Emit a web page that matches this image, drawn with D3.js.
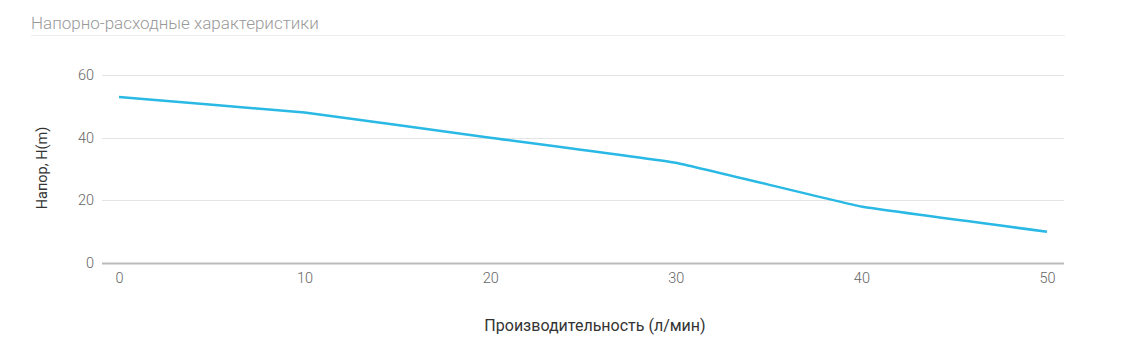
<!DOCTYPE html>
<html><head><meta charset="utf-8">
<script src="https://cdn.jsdelivr.net/npm/d3@7"></script>
<style>body{margin:0;background:#fff;}svg{display:block;font-family:Roboto,sans-serif;}</style>
</head><body><svg id="c" width="1126" height="360"></svg>
<script>
const flow = [0, 10, 20, 30, 40, 50];
const head = [53, 48, 40, 32, 18, 10];
const yTicks = [0, 20, 40, 60];
const xTicks = [0, 10, 20, 30, 40, 50];
const title = "Напорно-расходные характеристики";
const xTitle = "Производительность (л/мин)";
const yTitle = "Напор, H(m)";

const svg = d3.select("#c");
const x = d3.scaleLinear().domain([0, 50]).range([119, 1047]);
const y = d3.scaleLinear().domain([0, 60]).range([263, 75]);
const gridL = 102, gridR = 1064;

svg.append("text").attr("x", 31).attr("y", 29).attr("font-size", 17).attr("font-weight", 300)
  .attr("fill", "#999").text(title);
svg.append("line").attr("x1", 31).attr("x2", 1065).attr("y1", 35.5).attr("y2", 35.5)
  .attr("stroke", "#eeeeee").attr("stroke-width", 1);

const yAxis = d3.axisLeft(y).tickValues(yTicks).tickSize(0).tickPadding(0);
const gy = svg.append("g").attr("transform", `translate(${gridL - 8},0)`).call(yAxis);
gy.select(".domain").remove();
gy.selectAll("text").attr("font-size", 14.5).attr("font-family", "Roboto, sans-serif").attr("font-weight", 300).attr("fill", "#666");

svg.append("g").selectAll("line").data(yTicks).join("line")
  .attr("x1", gridL).attr("x2", gridR)
  .attr("y1", d => Math.round(y(d)) + 0.5).attr("y2", d => Math.round(y(d)) + 0.5)
  .attr("stroke", d => d === 0 ? "#bbbbbb" : "#e4e4e4").attr("stroke-width", d => d === 0 ? 2 : 1);

const xAxis = d3.axisBottom(x).tickValues(xTicks).tickSize(0).tickPadding(0);
const gx = svg.append("g").attr("transform", `translate(0,${273})`).call(xAxis);
gx.select(".domain").remove();
gx.selectAll("text").attr("font-size", 14.5).attr("font-family", "Roboto, sans-serif").attr("font-weight", 300).attr("fill", "#666");

svg.append("text").attr("x", 595).attr("y", 331).attr("text-anchor", "middle")
  .attr("font-size", 16).attr("fill", "#333").text(xTitle);
svg.append("text").attr("transform", "translate(47,168) rotate(-90)").attr("text-anchor", "middle")
  .attr("font-size", 14.5).attr("fill", "#333").text(yTitle);

const pts = flow.map((f, i) => [f, head[i]]);
const line = d3.line().x(d => x(d[0])).y(d => y(d[1])).curve(d3.curveCardinal.tension(0.75));
svg.append("path").datum(pts).attr("d", line).attr("fill", "none")
  .attr("stroke", "#29b9e4").attr("stroke-width", 2.5);
</script></body></html>
